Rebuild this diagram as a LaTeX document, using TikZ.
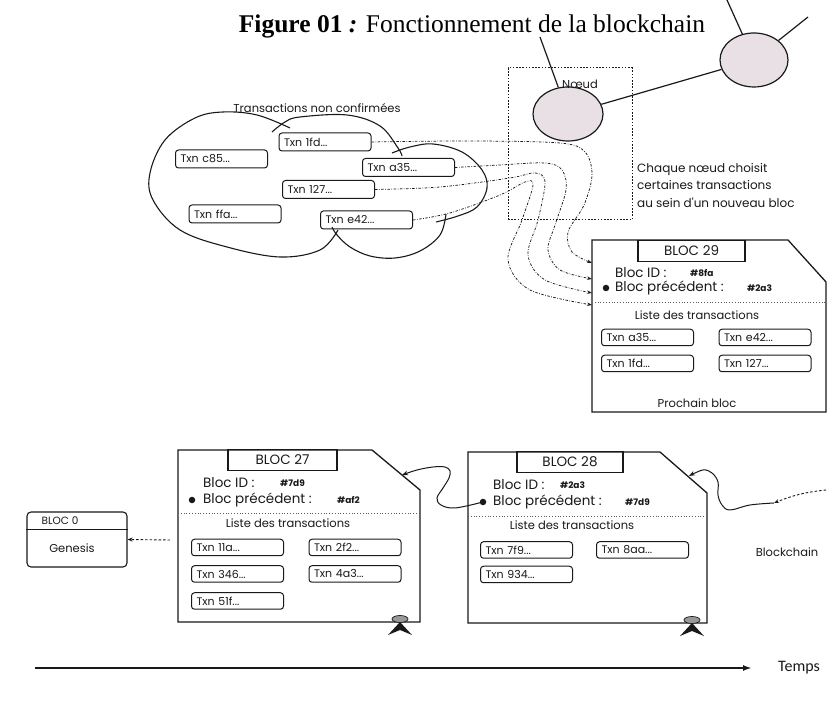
\documentclass[tikz,border=0pt]{standalone}
\usepackage{fontspec}
\setmainfont{Liberation Serif}
\newfontfamily\popp{Poppins}
\newfontfamily\carl{Carlito}
\usetikzlibrary{arrows.meta,shapes.geometric}
\definecolor{nodefill}{RGB}{232,224,228}
\definecolor{ink}{RGB}{25,25,25}
\begin{document}
\begin{tikzpicture}[x=1pt,y=1pt,
  edge/.style={draw=ink, line width=1.2pt},
  nodeell/.style={ellipse, draw=ink, line width=1.2pt, fill=nodefill, inner sep=0pt},
  dotbox/.style={draw=ink, line width=1pt, dash pattern=on 1.6pt off 1.6pt},
  lbl/.style={inner sep=0pt, text=ink, font=\popp\fontsize{11.5}{13}\selectfont},
  txn/.style={draw=ink, rounded corners=3pt, line width=1pt, minimum height=18pt,
    text width=82pt, inner xsep=5pt, inner ysep=0pt, align=left, text=ink,
    font=\popp\fontsize{11}{12}\selectfont},
  txnb/.style={txn, minimum height=16.5pt},
  big/.style={inner sep=0pt, anchor=west, text=ink, font=\popp\fontsize{13.5}{14}\selectfont},
  hash/.style={inner sep=0pt, anchor=west, text=ink, font=\popp\bfseries\fontsize{9}{10}\selectfont},
  bloc/.style={draw=ink, line width=1.3pt},
  tab/.style={draw=ink, line width=1.2pt, minimum height=21pt, inner sep=0pt, text=ink,
    font=\popp\fontsize{13.5}{14}\selectfont},
  bul/.style={circle, fill=ink, inner sep=0pt, minimum size=6.5pt},
  ddash/.style={draw=ink, line width=0.75pt, dash pattern=on 2.5pt off 1.5pt on 0.7pt off 1.5pt,
    -{Stealth[length=5pt,width=3.5pt]}},
  link/.style={draw=ink, line width=1pt, -{Stealth[length=6pt,width=4.5pt]}},
  sep/.style={draw=ink!70, line width=0.8pt, dotted},
  pincap/.style={ellipse, draw=ink, fill=black!40, line width=0.7pt, minimum width=16pt, minimum height=7pt, inner sep=0pt}
]
\useasboundingbox (0,0) rectangle (829,708);

% title
\node[anchor=base, inner sep=0pt] (title) at (472,675)
  {\fontsize{25.5}{30}\selectfont\textbf{Figure 01 \textit{:}} Fonctionnement de la blockchain};

% network nodes
\node[nodeell, minimum width=70pt, minimum height=54pt] (n1) at (568,594) {};
\node[nodeell, minimum width=68pt, minimum height=54pt] (n2) at (754,648) {};
\coordinate (n1up) at (540,671);
\coordinate (n2up) at (727,708);
\coordinate (n2right) at (808,691);
\draw[edge] (n1) -- (n1up);
\draw[edge] (n1) -- (n2);
\draw[edge] (n2) -- (n2up);
\draw[edge] (n2) -- (n2right);

\node[dotbox, minimum width=124pt, minimum height=152pt] (nbox) at (570,564) {};
\node[lbl] (noeud) at (580,624) {Nœud};
\node[lbl, anchor=west, align=left, font=\popp\fontsize{12}{17.5}\selectfont] (chq) at (637,523)
  {Chaque nœud choisit\\certaines transactions\\au sein d'un nouveau bloc};

% cloud
\node[lbl] (cloudlbl) at (317,600) {Transactions non confirmées};
\draw[ink, line width=1.1pt] plot[smooth, tension=0.6] coordinates
  {(338,478) (320,458) (280,451) (227,461) (180,478) (153,508) (150,535) (165,568) (195,590) (223,596) (257,593) (290,580)};
\draw[ink, line width=1.1pt] plot[smooth, tension=0.6] coordinates
  {(272,576) (285,586) (300,591) (347,593) (380,582) (398,560) (402,552)};
\draw[ink, line width=1.1pt] plot[smooth, tension=0.6] coordinates
  {(392,555) (410,561) (433,564) (462,556) (482,538) (487,520) (477,501) (458,492) (436,486)};
\draw[ink, line width=1.1pt] plot[smooth, tension=0.6] coordinates
  {(446,494) (440,473) (420,457) (395,450) (370,452) (350,461) (337,473) (332,481)};

\node[txn] (c1fd) at (325,566) {Txn 1fd...};
\node[txn] (cc85) at (221.5,549) {Txn c85...};
\node[txn] (ca35) at (408.5,540.5) {Txn a35...};
\node[txn] (c127) at (328.5,518.5) {Txn 127...};
\node[txn] (cffa) at (235,494) {Txn ffa...};
\node[txn] (ce42) at (366.5,488) {Txn e42...};

% bloc 29
\draw[bloc] (592,468) -- (788,468) -- (826,426) -- (826,296) -- (592,296) -- cycle;
\coordinate (in1) at (592,445);
\coordinate (in2) at (592,429);
\coordinate (in3) at (592,415);
\coordinate (in4) at (592,403);
\node[tab, minimum width=107pt] (tab29) at (691.5,457) {BLOC 29};
\node[big] (id29) at (615,435) {Bloc ID :};
\node[hash] (h29a) at (690,435) {\#8fa};
\node[bul] (bul29) at (606,420) {};
\node[big] (pr29) at (615,420) {Bloc précédent :};
\node[hash] (h29b) at (747,420) {\#2a3};
\draw[sep] (592,406) -- (826,406);
\node[lbl] (lt29) at (697,393) {Liste des transactions};
\node[txnb] (b29a) at (647.5,370.5) {Txn a35...};
\node[txnb] (b29b) at (765,370.5) {Txn e42...};
\node[txnb] (b29c) at (647.5,344.5) {Txn 1fd...};
\node[txnb] (b29d) at (765,344.5) {Txn 127...};
\node[lbl] (proch) at (697,305) {Prochain bloc};

% dash-dot selections
\draw[ddash] plot[smooth, tension=0.55] coordinates
  {(c1fd.east) (470,567) (560,565) (585,556) (592,533) (584,503) (568,476) (572,456) (in1)};
\draw[ddash] plot[smooth, tension=0.55] coordinates
  {(ca35.east) (500,543) (545,545) (562,538) (566,518) (555,483) (548,458) (560,438) (in2)};
\draw[ddash] plot[smooth, tension=0.55] coordinates
  {(c127.east) (440,521) (510,530) (535,535) (545,526) (538,488) (528,453) (545,428) (in3)};
\draw[ddash] plot[smooth, tension=0.55] coordinates
  {(ce42.east) (450,495) (500,513) (525,526) (533,523) (522,488) (508,448) (530,418) (in4)};

% bloc 27
\draw[bloc] (178,258) -- (372,258) -- (420,218) -- (420,86) -- (178,86) -- cycle;
\node[tab, minimum width=109pt] (tab27) at (282.5,248) {BLOC 27};
\node[big] (id27) at (203,225) {Bloc ID :};
\node[hash] (h27a) at (280,225) {\#7d9};
\node[bul] (bul27) at (192,208) {};
\node[big] (pr27) at (203,208) {Bloc précédent :};
\node[hash] (h27b) at (337,208) {\#af2};
\draw[sep] (178,195) -- (420,195);
\node[lbl] (lt27) at (288,185) {Liste des transactions};
\node[txnb] (b27a) at (237.5,160.5) {Txn 11a...};
\node[txnb] (b27b) at (355,160.5) {Txn 2f2...};
\node[txnb] (b27c) at (237.5,134) {Txn 346...};
\node[txnb] (b27d) at (355,134) {Txn 4a3...};
\node[txnb] (b27e) at (237.5,107) {Txn 51f...};
\fill[ink] (388,73) -- (400,86) -- (412,73) -- (400,78) -- cycle;
\node[pincap] (pin27) at (400,89) {};

% bloc 28
\draw[bloc] (468,256) -- (660,256) -- (707,215) -- (707,85) -- (468,85) -- cycle;
\node[tab, minimum width=106pt] (tab28) at (570,246) {BLOC 28};
\node[big] (id28) at (493,223) {Bloc ID :};
\node[hash] (h28a) at (560,223) {\#2a3};
\node[bul] (bul28) at (483,206) {};
\node[big] (pr28) at (493,206) {Bloc précédent :};
\node[hash] (h28b) at (625,206) {\#7d9};
\draw[sep] (468,192) -- (707,192);
\node[lbl] (lt28) at (572,183) {Liste des transactions};
\node[txnb] (b28a) at (526.5,158) {Txn 7f9...};
\node[txnb] (b28b) at (642.5,158) {Txn 8aa...};
\node[txnb] (b28c) at (526.5,133.5) {Txn 934...};
\fill[ink] (680,72) -- (692,85) -- (704,72) -- (692,77) -- cycle;
\node[pincap] (pin28) at (692,88) {};

% links between blocks
\coordinate (d27) at (402,233);
\draw[link] plot[smooth, tension=0.6] coordinates
  {(bul28.center) (455,200) (441,203) (437,210) (443,220) (449,230) (450,237) (445,241) (433,241) (417,238) (d27)};
\coordinate (d28) at (689,232);
\coordinate (nx) at (826,218);
\coordinate (nxe) at (774,205);
\draw[draw=ink, line width=0.9pt, dash pattern=on 2.5pt off 2pt, -{Stealth[length=5pt,width=4pt]}] (nx) to[bend right=8] (nxe);
\draw[link] plot[smooth, tension=0.6] coordinates
  {(nxe) (750,203) (730,198) (722,203) (718,213) (718,226) (712,235) (703,238) (d28)};

% bloc 0
\node[draw=ink, line width=1.1pt, rounded corners=4pt, minimum width=100pt, minimum height=55pt] (b0) at (77,168.5) {};
\draw[ink, line width=1pt] (b0.west |- 0,178) -- (b0.east |- 0,178);
\node[lbl, font=\popp\fontsize{10.5}{12}\selectfont] (b0t) at (60,187) {BLOC 0};
\node[lbl] (gen) at (72,160) {Genesis};
\coordinate (c0) at (170,168);
\draw[draw=ink, line width=0.9pt, dash pattern=on 2.5pt off 2pt, -{Stealth[length=5pt,width=4pt]}] (c0) -- (b0.east);

\node[lbl] (bc) at (787,156) {Blockchain};

% time axis
\coordinate (t0) at (35,40);
\coordinate (t1) at (752,40);
\node[inner sep=0pt, anchor=west, text=ink, font=\carl\fontsize{16}{18}\selectfont] (temps) at (778,40) {Temps};
\draw[draw=ink, line width=1.8pt, -{Latex[length=9pt,width=6pt]}] (t0) -- (t1);
\end{tikzpicture}
\end{document}
